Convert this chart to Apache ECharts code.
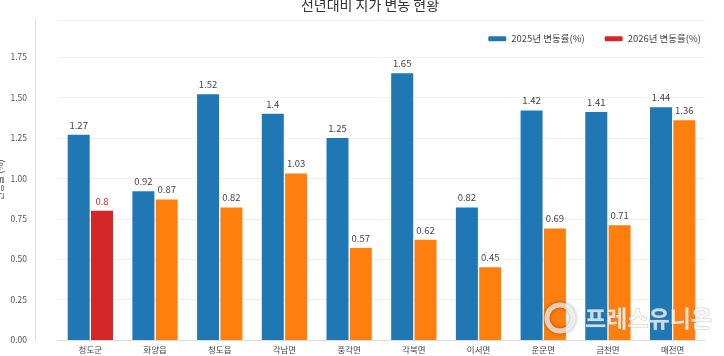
<!DOCTYPE html>
<html><head><meta charset="utf-8">
<script src="https://cdn.jsdelivr.net/npm/echarts@6/dist/echarts.min.js"></script>
<style>html,body{margin:0;padding:0;background:#fff}#c{width:724px;height:356px}</style>
</head><body><div id="c"></div>
<script>
const categories = ['청도군','화양읍','청도읍','각남면','풍각면','각북면','이서면','운문면','금천면','매전면'];
const values2025 = [1.27, 0.92, 1.52, 1.4, 1.25, 1.65, 0.82, 1.42, 1.41, 1.44];
const values2026 = [0.8, 0.87, 0.82, 1.03, 0.57, 0.62, 0.45, 0.69, 0.71, 1.36];
const yTicks = [0, 0.25, 0.5, 0.75, 1.0, 1.25, 1.5, 1.75];
const FONT = 'Noto Sans CJK KR';
const BLUE = '#1f77b4', RED = '#d62728', ORANGE = '#ff7f0e';

const chart = echarts.init(document.getElementById('c'), null, {renderer:'canvas'});
chart.setOption({
  backgroundColor: '#fff',
  textStyle: {fontFamily: FONT},
  animation: false,
  title: {text: '전년대비 지가 변동 현황', left: 365, top: -7, textAlign: 'center',
    textStyle: {fontSize: 14, fontWeight: 'normal', color: '#333', fontFamily: FONT}},
  legend: {right: 18, top: 29, itemWidth: 18, itemHeight: 5, itemGap: 20,
    textStyle: {fontSize: 9.5, color: '#444', fontFamily: FONT}},
  grid: {left: 58, right: 19, top: 20, bottom: 16, containLabel: false, outerBoundsMode: 'none'},
  xAxis: {type: 'category', data: categories,
    axisLine: {lineStyle: {color: '#ddd'}}, axisTick: {show: false},
    axisLabel: {fontSize: 8.5, color: '#444', margin: 6}},
  yAxis: {type: 'value', min: 0, max: 1.98, interval: 0.25, offset: 23,
    name: '변동률 (%)', nameLocation: 'middle', nameGap: 31, nameRotate: 90,
    nameMoveOverlap: false,
    nameTextStyle: {fontSize: 9, color: '#444'},
    axisLine: {show: true, lineStyle: {color: '#ddd'}}, axisTick: {show: false},
    axisLabel: {fontSize: 8.5, color: '#555', showMaxLabel: false,
      formatter: v => yTicks.includes(+v.toFixed(2)) ? v.toFixed(2) : ''},
    splitLine: {lineStyle: {color: '#f0f0f0'}}},
  series: [
    {name: '2025년 변동률(%)', type: 'bar', barWidth: 22, barGap: '6%',
      itemStyle: {color: BLUE},
      label: {show: true, position: 'top', distance: 5, fontSize: 9.5, color: '#444'},
      data: values2025},
    {name: '2026년 변동률(%)', type: 'bar', barWidth: 22,
      itemStyle: {color: RED},
      label: {show: true, position: 'top', distance: 5, fontSize: 9.5, color: '#444'},
      data: values2026.map((v, i) => i === 0
        ? {value: v, itemStyle: {color: RED}, label: {color: RED}}
        : {value: v, itemStyle: {color: ORANGE}})}
  ],
  graphic: [
    {type: 'circle', shape: {cx: 560, cy: 318, r: 13}, z: 100,
      style: {fill: 'none', stroke: 'rgba(255,255,255,0.7)', lineWidth: 5,
        shadowColor: 'rgba(0,0,0,0.5)', shadowBlur: 4}},
    {type: 'text', x: 585, y: 318, z: 100,
      style: {text: '프레스유니온', fontSize: 23, fontWeight: 'bold', fontFamily: FONT,
        verticalAlign: 'middle', fill: 'rgba(255,255,255,0.75)',
        stroke: 'rgba(140,140,140,0.45)', lineWidth: 1}}]
});
</script></body></html>
